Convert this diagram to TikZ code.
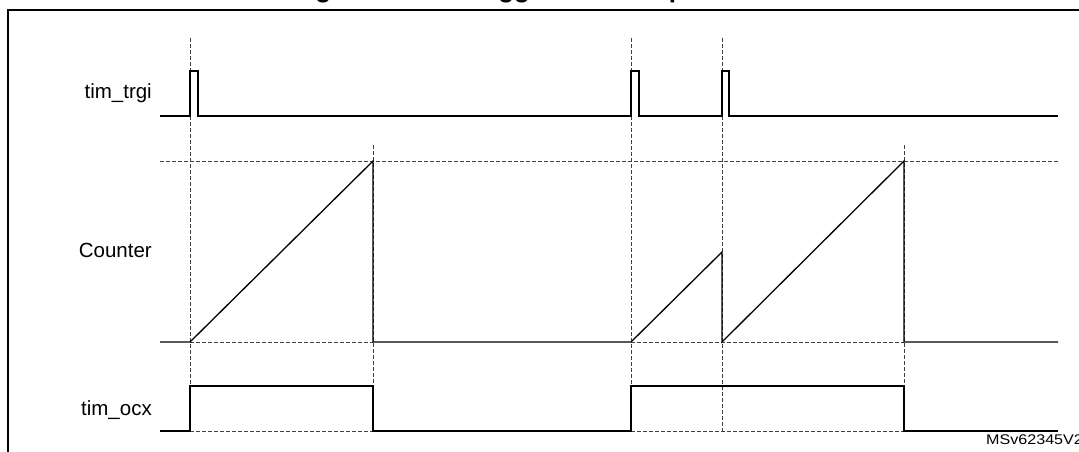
\documentclass[tikz,border=0pt]{standalone}
\usepackage{fontspec}
\setmainfont{Liberation Sans}

\begin{document}
\begin{tikzpicture}[x=1pt,y=-1pt,
  sig/.style={line width=1.3pt},
  guide/.style={dash pattern=on 4pt off 2pt,line width=0.7pt,black!75},
  lbl/.style={anchor=base east,inner sep=0pt,font=\fontsize{20.5}{24}\selectfont}]
\useasboundingbox (0,0) rectangle (1079,452);
\node [anchor=base west,inner sep=0pt,font=\bfseries\fontsize{26}{30}\selectfont] (title) at (292,-2.5) {Figure 356. Retriggerable one-pulse mode};
\draw [line width=2pt] (8,480) -- (8,10) -- (1100,10);
% guides
\draw [guide] (190,38) -- (190,431);
\draw [guide] (631,38) -- (631,431);
\draw [guide] (722,38) -- (722,431);
\draw [guide] (373,145) -- (373,431);
\draw [guide] (904,145) -- (904,431);
\draw [guide] (160,161) -- (1058,161);
\draw [guide] (190,342) -- (373,342);
\draw [guide] (631,342) -- (904,342);
\draw [guide] (190,431) -- (373,431);
\draw [guide] (631,431) -- (904,431);
% signals
\node [lbl] (trgi) at (152,99) {tim\_trgi};
\node [lbl] (cnt) at (152,257) {Counter};
\node [lbl] (ocx) at (152,415) {tim\_ocx};
\draw [sig] (160,116) -- (190,116) -- (190,71) -- (198,71) -- (198,116) -- (631,116) -- (631,71) -- (639,71) -- (639,116)
  -- (722,116) -- (722,71) -- (729,71) -- (729,116) -- (1058,116);
\draw [sig] (160,342) -- (190,342) -- (373,161) -- (373,342) -- (631,342) -- (722,252) -- (722,342) -- (904,161) -- (904,342) -- (1058,342);
\draw [sig] (160,431) -- (190,431) -- (190,386) -- (373,386) -- (373,431) -- (631,431) -- (631,386) -- (904,386) -- (904,431) -- (1058,431);
\node [anchor=base west,inner sep=0pt,xscale=1.15,font=\fontsize{14}{16}\selectfont] (ref) at (986,444) {MSv62345V2};
\end{tikzpicture}
\end{document}
